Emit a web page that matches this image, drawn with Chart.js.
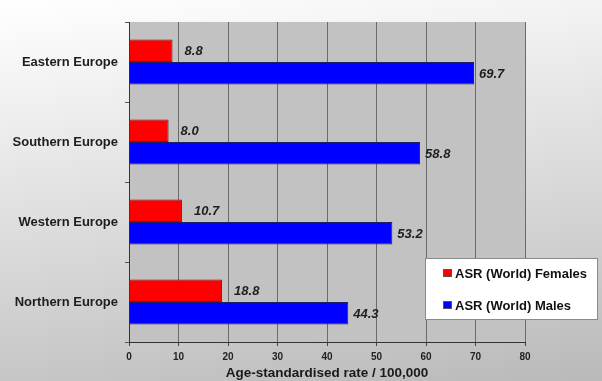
<!DOCTYPE html>
<html>
<head>
<meta charset="utf-8">
<script src="https://cdn.jsdelivr.net/npm/chart.js@4/dist/chart.umd.min.js"></script>
<style>
  html, body { margin: 0; padding: 0; }
  body { width: 602px; height: 381px; background: linear-gradient(172deg, #ffffff 0%, #f2f2f2 20%, #d6d6d6 60%, #b9b9b9 100%); overflow: hidden; }
  #wrap { position: relative; width: 602px; height: 381px; }
</style>
</head>
<body>
<div id="wrap"><canvas id="c" width="602" height="381"></canvas></div>
<script>
const categories = ['Eastern Europe', 'Southern Europe', 'Western Europe', 'Northern Europe'];
const femalesASR = [8.8, 8.0, 10.7, 18.8];
const malesASR = [69.7, 58.8, 53.2, 44.3];
const seriesNames = ['ASR (World) Females', 'ASR (World) Males'];
const xTicks = [0, 10, 20, 30, 40, 50, 60, 70, 80];
const xTitle = 'Age-standardised rate / 100,000';

const FONT = "'Liberation Sans', Arial, sans-serif";

const plotBg = {
  id: 'plotBg',
  beforeDraw(chart) {
    const { ctx, chartArea: a } = chart;
    ctx.save();
    ctx.fillStyle = '#c2c2c2';
    ctx.fillRect(a.left, a.top, a.right - a.left, a.bottom - a.top);
    ctx.restore();
  }
};

const valueLabels = {
  id: 'valueLabels',
  afterDatasetsDraw(chart) {
    const { ctx } = chart;
    ctx.save();
    ctx.font = "italic bold 13px " + FONT;
    ctx.fillStyle = '#1e1e1e';
    ctx.textBaseline = 'middle';
    ctx.textAlign = 'left';
    chart.data.datasets.forEach((ds, di) => {
      const meta = chart.getDatasetMeta(di);
      const gap = ds.labelGap;
      meta.data.forEach((bar, i) => {
        ctx.fillText(ds.data[i].toFixed(1), bar.x + gap, bar.y + 1);
      });
    });
    ctx.restore();
  }
};

const boxLegend = {
  id: 'boxLegend',
  afterDraw(chart) {
    const { ctx, chartArea: a } = chart;
    const x = a.right - 100, y = a.bottom - 84, w = 173, h = 62;
    ctx.save();
    ctx.fillStyle = '#ffffff';
    ctx.fillRect(x, y, w, h);
    ctx.strokeStyle = '#8a8a8a';
    ctx.lineWidth = 1;
    ctx.strokeRect(x + 0.5, y + 0.5, w - 1, h - 1);
    ctx.font = "bold 13px " + FONT;
    ctx.textBaseline = 'middle';
    chart.data.datasets.forEach((ds, i) => {
      const cy = y + 15 + i * 32;
      ctx.fillStyle = ds.backgroundColor;
      ctx.fillRect(x + 18, cy - 4, 9, 8);
      ctx.strokeStyle = '#555';
      ctx.strokeRect(x + 18.5, cy - 3.5, 8, 7);
      ctx.fillStyle = '#111';
      ctx.fillText(ds.label, x + 30, cy + 1);
    });
    ctx.restore();
  }
};

new Chart(document.getElementById('c'), {
  type: 'bar',
  data: {
    labels: categories,
    datasets: [
      { label: seriesNames[0], data: femalesASR, backgroundColor: '#ff0000', borderColor: '#6a2020', borderWidth: 1, labelGap: 12 },
      { label: seriesNames[1], data: malesASR, backgroundColor: '#0000ff', borderColor: '#20206a', borderWidth: 1, labelGap: 5 }
    ]
  },
  options: {
    indexAxis: 'y',
    responsive: false,
    animation: false,
    devicePixelRatio: 1,
    layout: { padding: { top: 22, right: 77, left: 0, bottom: 0 } },
    datasets: { bar: { categoryPercentage: 0.5625, barPercentage: 1.0 } },
    plugins: { legend: { display: false }, tooltip: { enabled: false }, title: { display: false } },
    scales: {
      x: {
        type: 'linear',
        min: xTicks[0],
        max: xTicks[xTicks.length - 1],
        afterBuildTicks(scale) { scale.ticks = xTicks.map(v => ({ value: v })); },
        afterFit(scale) { scale.height = 39; },
        grid: { color: '#6a6a6a', lineWidth: 1, tickLength: 4, tickColor: '#444' },
        border: { color: '#333333', width: 1 },
        ticks: { color: '#222', font: { family: FONT, size: 10, weight: 'bold' }, padding: 5 },
        title: { display: true, text: xTitle, color: '#1a1a1a', font: { family: FONT, size: 13.5, weight: 'bold' }, padding: { top: 0, bottom: 0 } }
      },
      y: {
        afterFit(scale) { scale.width = 129; },
        grid: { drawOnChartArea: false, offset: true, tickLength: 4, color: '#555' },
        border: { color: '#333333', width: 1 },
        ticks: { color: '#1e1e1e', font: { family: FONT, size: 13, weight: 'bold' }, padding: 7 }
      }
    }
  },
  plugins: [plotBg, valueLabels, boxLegend]
});
</script>
</body>
</html>
